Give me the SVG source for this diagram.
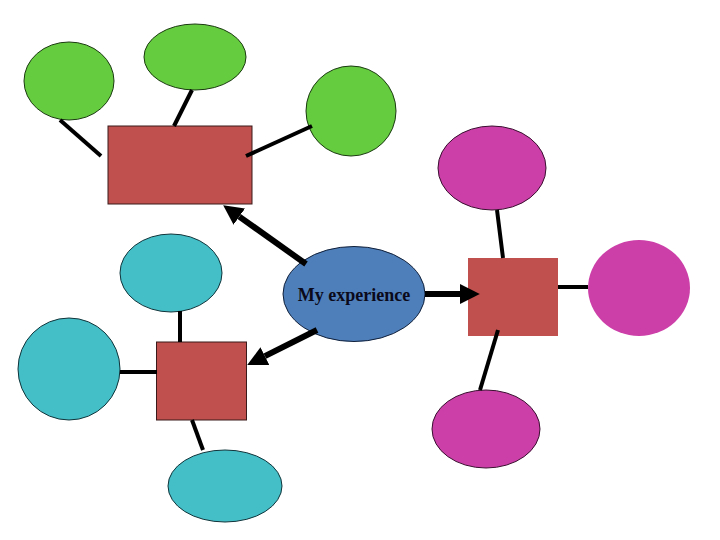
<svg xmlns="http://www.w3.org/2000/svg" width="720" height="540" viewBox="0 0 720 540">
<style>
.g{fill:#66CC3F;stroke:#1a3a10;stroke-width:1}
.m{fill:#CC3FA8;stroke:#3a1030;stroke-width:1}
.c{fill:#44BFC8;stroke:#10343a;stroke-width:1}
.r{fill:#C0504D;stroke:#3a1a1a;stroke-width:1}
.l{stroke:#000;stroke-width:4;fill:none}
.a{stroke:#000;stroke-width:6;fill:none;marker-end:url(#ah)}
</style>
<defs>
<marker id="ah" viewBox="0 0 10 10" refX="0" refY="5" markerWidth="3.3" markerHeight="3.5" orient="auto" markerUnits="strokeWidth">
<path d="M0,0 L10,5 L0,10 z" fill="#000"/>
</marker>
</defs>
<rect width="720" height="540" fill="#fff"/>
<g id="green-rect"><rect class="r" x="108" y="126" width="144" height="78"/></g>
<g id="green-1"><ellipse class="g" cx="69" cy="81" rx="45" ry="39"/></g>
<g id="green-2"><ellipse class="g" cx="195" cy="57" rx="51" ry="33"/></g>
<g id="green-3"><ellipse class="g" cx="351" cy="111" rx="45" ry="45"/></g>
<g id="magenta-rect"><rect x="468" y="258" width="90" height="78" fill="#C0504D"/></g>
<g id="magenta-1"><ellipse class="m" cx="492" cy="168" rx="54" ry="42"/></g>
<g id="magenta-2"><ellipse cx="639" cy="288" rx="51" ry="48" fill="#CC3FA8"/></g>
<g id="magenta-3"><ellipse class="m" cx="486" cy="429" rx="54" ry="39"/></g>
<g id="cyan-rect"><rect class="r" x="156.5" y="342" width="90" height="78"/></g>
<g id="cyan-1"><ellipse class="c" cx="171" cy="273" rx="51" ry="39"/></g>
<g id="cyan-2"><ellipse class="c" cx="69" cy="369" rx="51" ry="51"/></g>
<g id="cyan-3"><ellipse class="c" cx="225" cy="486" rx="57" ry="36"/></g>
<g id="center">
<ellipse cx="354" cy="294" rx="71" ry="47.5" fill="#4F7FBA" stroke="#10203a" stroke-width="1"/>
<text x="354" y="301" text-anchor="middle" font-family="'Liberation Serif', serif" font-weight="bold" font-size="18" fill="#0a0a1a">My experience</text>
</g>
<g id="connectors">
<line class="l" x1="60" y1="120" x2="101" y2="156"/>
<line class="l" x1="192" y1="90" x2="174" y2="126"/>
<line class="l" x1="312" y1="126" x2="246" y2="156"/>
<line class="l" x1="497" y1="210" x2="503" y2="258"/>
<line class="l" x1="558" y1="287" x2="588" y2="287"/>
<line class="l" x1="498" y1="330" x2="480" y2="390"/>
<line class="l" x1="180" y1="311" x2="180" y2="342"/>
<line class="l" x1="120" y1="372" x2="157" y2="372"/>
<line class="l" x1="192" y1="420" x2="203" y2="450"/>
<line class="a" x1="425" y1="294" x2="460" y2="294"/>
<line class="a" x1="306" y1="264" x2="239.3" y2="216.6"/>
<line class="a" x1="317" y1="330" x2="264.9" y2="356.1"/>
</g>
</svg>
